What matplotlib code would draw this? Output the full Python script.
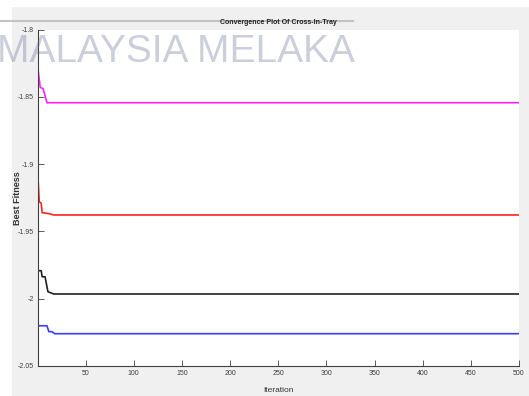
import matplotlib
matplotlib.use("Agg")
import matplotlib.pyplot as plt
from matplotlib.patches import Rectangle
from matplotlib.lines import Line2D

# Best fitness per iteration (iteration, value) for four runs
iter_magenta = [1, 3, 6, 10, 500]
fit_magenta = [-1.8313, -1.8430, -1.8440, -1.8544, -1.8544]

iter_red = [1, 2, 4, 5, 12, 17, 500]
fit_red = [-1.9143, -1.9280, -1.9290, -1.9361, -1.9368, -1.9378, -1.9378]

iter_black = [1, 4, 5, 8, 11, 17, 500]
fit_black = [-1.9792, -1.9792, -1.9837, -1.9837, -1.9948, -1.9965, -1.9965]

iter_blue = [1, 10, 12, 15, 18, 500]
fit_blue = [-2.0201, -2.0201, -2.0245, -2.0245, -2.0260, -2.0260]

x_ticks = [50, 100, 150, 200, 250, 300, 350, 400, 450, 500]
y_ticks = [-1.8, -1.85, -1.9, -1.95, -2.0, -2.05]
y_tick_labels = ["-1.8", "-1.85", "-1.9", "-1.95", "-2", "-2.05"]

NARROW = ["Liberation Sans Narrow", "Liberation Sans", "DejaVu Sans"]
W, H = 529, 396

fig = plt.figure(figsize=(W / 100, H / 100), dpi=100, facecolor="white")

# grey window background
fig.patches.append(Rectangle((12 / W, 0), 1 - 12 / W, 1 - 7 / H,
                             transform=fig.transFigure, facecolor="#f0f0f0",
                             edgecolor="none", zorder=-2))
# thin grey rule behind the title
fig.lines.append(Line2D([0, 353 / W], [1 - 20.5 / H, 1 - 20.5 / H],
                        transform=fig.transFigure, color="#c2c2c2", lw=1.5,
                        zorder=-1))

ax = fig.add_axes([38.3 / W, 1 - 366 / H, (519 - 38.3) / W, (366 - 29.5) / H])
ax.set_facecolor("white")

lw = 1.2
ax.plot(iter_magenta, fit_magenta, color="#ff22ff", lw=lw)
ax.plot(iter_red, fit_red, color="#ff2424", lw=lw)
ax.plot(iter_black, fit_black, color="#222222", lw=lw)
ax.plot(iter_blue, fit_blue, color="#3c3cff", lw=lw)

ax.set_xlim(1, 500)
ax.set_ylim(-2.05, -1.8)
ax.set_xticks(x_ticks)
ax.set_xticklabels([str(t) for t in x_ticks])
ax.set_yticks(y_ticks)
ax.set_yticklabels(y_tick_labels)

for side in ("top", "right"):
    ax.spines[side].set_visible(False)
for side in ("left", "bottom"):
    ax.spines[side].set_color("#404040")
    ax.spines[side].set_linewidth(0.8)

ax.tick_params(direction="in", length=4, width=0.6, color="#404040",
               labelsize=5, labelcolor="#404040", pad=3)
for lab in ax.get_xticklabels() + ax.get_yticklabels():
    lab.set_family(NARROW)

ax.set_title("Convergence Plot Of Cross-In-Tray", fontsize=5,
             fontweight="bold", family=NARROW, color="#222222", pad=4)
ax.set_xlabel("Iteration", fontsize=6, family=NARROW, color="#333333")
ax.xaxis.set_label_coords(0.5, -(390 - 366) / (366 - 29.5), transform=ax.transAxes)
ax.xaxis.label.set_va("center")
ax.set_ylabel("Best Fitness", fontsize=6.5, fontweight="bold",
              family=["Liberation Sans", "DejaVu Sans"], color="#333333")
ax.yaxis.set_label_coords((17 - 38.3) / (519 - 38.3), 0.5, transform=ax.transAxes)
ax.yaxis.label.set_va("center")

# watermark across the top
fig.text(-3 / W, 1 - 62 / H, "MALAYSIA MELAKA", fontsize=28,
         family=["Liberation Sans", "DejaVu Sans"], color=(88 / 255, 98 / 255, 138 / 255),
         alpha=0.3, va="baseline", ha="left", zorder=10)

fig.savefig("out.png", dpi=100, facecolor=fig.get_facecolor())
